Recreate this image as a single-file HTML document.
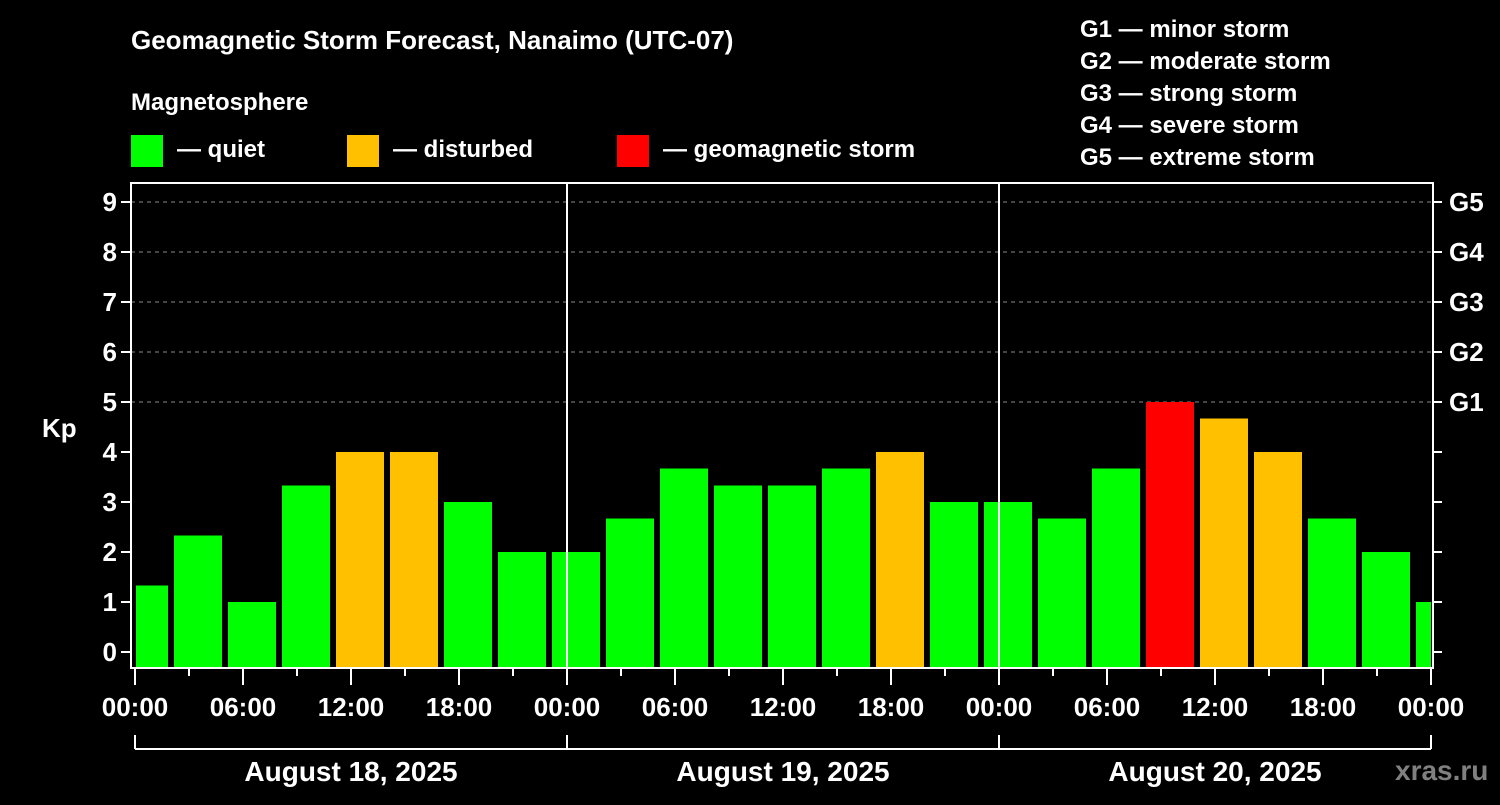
<!DOCTYPE html>
<html><head><meta charset="utf-8"><style>
html,body{margin:0;padding:0;background:#000;}
svg text{font-family:"Liberation Sans",Arial,sans-serif;font-weight:bold;fill:#fff;}
</style></head><body>
<svg id="chart" width="1500" height="800" xmlns="http://www.w3.org/2000/svg">
<rect width="1500" height="800" fill="#000"/>
<text x="131" y="49" font-size="26">Geomagnetic Storm Forecast, Nanaimo (UTC-07)</text>
<text x="131" y="110" font-size="24">Magnetosphere</text>
<g><rect x="131" y="135" width="32" height="32" fill="#00ff00"/><text x="177" y="157" font-size="24">— quiet</text></g>
<g><rect x="347" y="135" width="32" height="32" fill="#ffc000"/><text x="393" y="157" font-size="24">— disturbed</text></g>
<g><rect x="617" y="135" width="32" height="32" fill="#ff0000"/><text x="663" y="157" font-size="24">— geomagnetic storm</text></g>
<g font-size="24">
<text x="1080" y="37">G1 — minor storm</text>
<text x="1080" y="69">G2 — moderate storm</text>
<text x="1080" y="101">G3 — strong storm</text>
<text x="1080" y="133">G4 — severe storm</text>
<text x="1080" y="165">G5 — extreme storm</text>
</g>
<text x="42" y="437" font-size="26">Kp</text>
<g id="grid"></g><g id="bars"></g><g id="axes"></g>
<text x="1395" y="780" font-size="28" style="fill:#808080">xras.ru</text>
</svg>
<script>
const kpValues=[1.33,2.33,1,3.33,4,4,3,2,2,2.67,3.67,3.33,3.33,3.67,4,3,3,2.67,3.67,5,4.67,4,2.67,2,1];
const yTicks=[0,1,2,3,4,5,6,7,8,9];
const gLabels=["G1","G2","G3","G4","G5"];
const xTickLabels=["00:00","06:00","12:00","18:00","00:00","06:00","12:00","18:00","00:00","06:00","12:00","18:00","00:00"];
const dayLabels=["August 18, 2025","August 19, 2025","August 20, 2025"];
const NS="http://www.w3.org/2000/svg";
const X0=135,PXH=18,Y0=652,PXK=50,L=131,R=1433,T=183,B=668;
const xs=h=>X0+h*PXH, ys=k=>Y0-k*PXK;
function mk(tag,attrs,parent,txt){const e=document.createElementNS(NS,tag);for(const k in attrs)e.setAttribute(k,attrs[k]);if(txt!==undefined)e.textContent=txt;document.getElementById(parent).appendChild(e);return e;}
// grid
[5,6,7,8,9].forEach(k=>{const e=mk('line',{x1:L,x2:R,y1:ys(k),y2:ys(k),stroke:'#888','stroke-dasharray':'4,4','stroke-width':1},'grid');

});
// bars
kpValues.forEach((v,j)=>{let s=3*j-1,en=3*j+2;let x1=xs(Math.max(0,s))+(s<0?1:3),x2=xs(Math.min(72,en))-(en>72?0:3);
const c=v>=5?'#ff0000':(v>=4?'#ffc000':'#00ff00');
const e=mk('rect',{x:x1,y:ys(v),width:x2-x1,height:B-1-ys(v),fill:c},'bars');

});
// axes frame
const f=mk('rect',{x:L,y:T,width:R-L,height:B-T,fill:'none',stroke:'#fff','stroke-width':2},'axes');


[24,48].forEach(h=>{const e=mk('line',{x1:xs(h),x2:xs(h),y1:T,y2:B,stroke:'#fff','stroke-width':2},'axes');

});
yTicks.forEach(k=>{mk('line',{x1:L-10,x2:L,y1:ys(k),y2:ys(k),stroke:'#fff','stroke-width':2},'axes');
mk('line',{x1:R,x2:R+9,y1:ys(k),y2:ys(k),stroke:'#fff','stroke-width':2},'axes');
const t=mk('text',{x:L-14,y:ys(k)+9,'font-size':26,'text-anchor':'end'},'axes',String(k));

});
gLabels.forEach((g,i)=>{const t=mk('text',{x:1449,y:ys(5+i)+9,'font-size':26},'axes',g);

});
for(let h=0;h<=72;h+=3){const maj=h%6===0;mk('line',{x1:xs(h),x2:xs(h),y1:B,y2:B+(maj?17:8),stroke:'#fff','stroke-width':2},'axes');}
xTickLabels.forEach((s,i)=>{const t=mk('text',{x:xs(i*6),y:716,'font-size':26,'text-anchor':'middle'},'axes',s);

});
mk('line',{x1:xs(0),x2:xs(72),y1:749,y2:749,stroke:'#fff','stroke-width':2},'axes');
[0,24,48,72].forEach(h=>mk('line',{x1:xs(h),x2:xs(h),y1:735,y2:749,stroke:'#fff','stroke-width':2},'axes'));
dayLabels.forEach((d,i)=>{const t=mk('text',{x:xs(i*24+12),y:781,'font-size':28,'text-anchor':'middle'},'axes',d);

});
</script>
</body></html>
